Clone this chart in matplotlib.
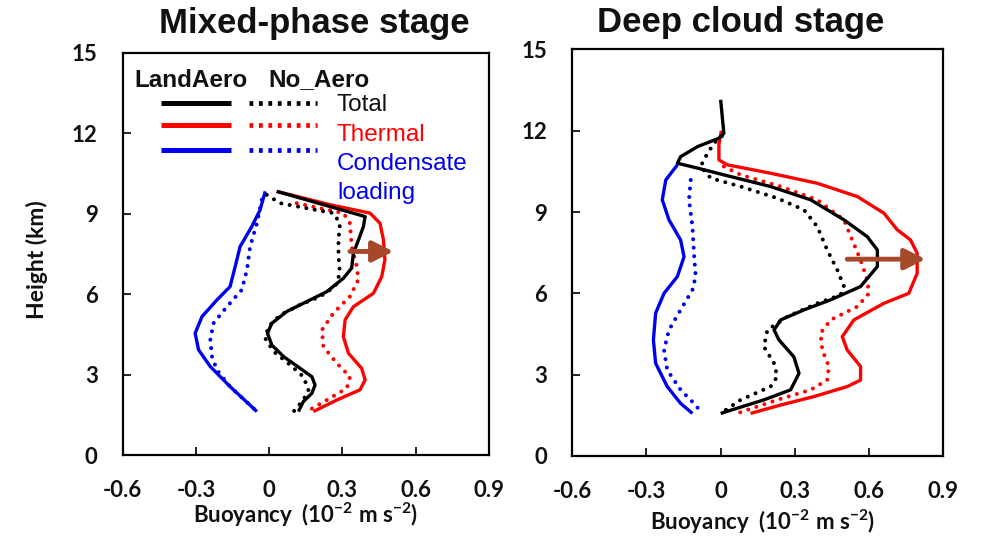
import matplotlib
matplotlib.use("Agg")
import matplotlib.pyplot as plt
from matplotlib.lines import Line2D

# ---------------- data ----------------
# Mixed-phase stage (left panel): height (km) and buoyancy (1e-2 m s-2)
mp_land_total_h = [9.83, 8.89, 8.52, 8.02, 7.53, 6.97, 6.59, 6.09, 5.72, 5.35, 4.91, 4.54, 4.10, 3.67, 3.23, 2.92, 2.61, 2.30, 1.99, 1.62]
mp_land_total_b = [0.031, 0.393, 0.386, 0.366, 0.345, 0.338, 0.304, 0.236, 0.154, 0.072, 0.011, -0.007, 0.011, 0.059, 0.127, 0.175, 0.188, 0.175, 0.140, 0.120]
mp_no_total_h = [9.70, 9.39, 9.20, 9.02, 8.64, 8.02, 7.40, 6.78, 6.28, 5.91, 5.60, 5.22, 4.79, 4.35, 3.86, 3.36, 2.92, 2.43, 2.05, 1.62]
mp_no_total_b = [-0.010, 0.045, 0.154, 0.263, 0.290, 0.284, 0.284, 0.290, 0.270, 0.209, 0.127, 0.045, -0.003, -0.016, 0.018, 0.086, 0.140, 0.161, 0.140, 0.100]
mp_land_therm_h = [9.83, 9.33, 9.02, 8.64, 8.02, 7.28, 6.65, 6.03, 5.53, 5.04, 4.41, 3.79, 3.23, 2.80, 2.43, 2.05, 1.62]
mp_land_therm_b = [0.031, 0.250, 0.413, 0.454, 0.468, 0.474, 0.461, 0.427, 0.345, 0.311, 0.304, 0.325, 0.379, 0.393, 0.372, 0.277, 0.181]
mp_no_therm_h = [9.39, 9.20, 9.02, 8.64, 7.77, 7.03, 6.53, 5.91, 5.29, 4.66, 4.04, 3.42, 2.92, 2.49, 2.05, 1.62]
mp_no_therm_b = [0.113, 0.209, 0.304, 0.331, 0.338, 0.359, 0.365, 0.331, 0.263, 0.216, 0.222, 0.277, 0.331, 0.318, 0.236, 0.154]
mp_land_cond_h = [9.83, 9.14, 8.52, 7.77, 7.03, 6.28, 5.78, 5.16, 4.54, 3.92, 3.30, 2.55, 1.62]
mp_land_cond_b = [-0.016, -0.037, -0.071, -0.119, -0.139, -0.160, -0.214, -0.275, -0.303, -0.289, -0.241, -0.160, -0.050]
mp_no_cond_h = [9.52, 8.64, 7.77, 6.90, 6.16, 5.53, 4.91, 4.29, 3.67, 3.17, 2.55, 1.62]
mp_no_cond_b = [-0.030, -0.050, -0.078, -0.091, -0.112, -0.173, -0.228, -0.241, -0.234, -0.214, -0.160, -0.050]
mp_arrow_b = [0.331, 0.509]
mp_arrow_h = 7.59

# Deep cloud stage (right panel)
dc_land_total_h = [13.14, 11.90, 11.72, 11.41, 11.04, 10.80, 10.62, 10.37, 9.94, 9.45, 8.71, 8.09, 7.60, 6.99, 6.25, 5.76, 5.39, 5.02, 4.65, 4.28, 3.66, 3.05, 2.44, 2.07, 1.57]
dc_land_total_b = [0.000, 0.013, -0.007, -0.094, -0.162, -0.175, -0.094, 0.013, 0.202, 0.364, 0.499, 0.593, 0.634, 0.634, 0.566, 0.445, 0.337, 0.243, 0.216, 0.236, 0.296, 0.317, 0.283, 0.175, 0.000]
dc_no_total_h = [11.80, 11.54, 11.04, 10.68, 10.25, 9.94, 9.51, 9.08, 8.46, 7.60, 6.86, 6.25, 5.94, 5.63, 5.14, 4.65, 4.03, 3.42, 2.93, 2.56, 2.07, 1.57]
dc_no_total_b = [0.005, -0.027, -0.061, -0.081, -0.040, 0.081, 0.229, 0.337, 0.391, 0.431, 0.472, 0.499, 0.485, 0.391, 0.270, 0.189, 0.175, 0.216, 0.229, 0.202, 0.081, 0.000]
dc_land_therm_h = [12.00, 11.50, 10.92, 10.74, 10.43, 10.06, 9.57, 8.96, 8.34, 7.97, 7.48, 6.74, 6.00, 5.63, 5.02, 4.40, 3.91, 3.30, 2.80, 2.56, 2.19, 1.88, 1.57]
dc_land_therm_b = [0.003, -0.007, -0.007, 0.027, 0.202, 0.391, 0.553, 0.660, 0.715, 0.768, 0.795, 0.795, 0.761, 0.660, 0.539, 0.492, 0.512, 0.566, 0.566, 0.512, 0.377, 0.243, 0.121]
dc_no_therm_h = [10.68, 10.37, 9.94, 9.45, 8.71, 7.97, 7.23, 6.49, 6.00, 5.51, 5.02, 4.53, 3.91, 3.30, 2.80, 2.44, 2.07, 1.70, 1.57]
dc_no_therm_b = [0.013, 0.081, 0.243, 0.391, 0.499, 0.532, 0.566, 0.593, 0.600, 0.553, 0.445, 0.404, 0.411, 0.438, 0.431, 0.364, 0.229, 0.108, 0.067]
dc_land_cond_h = [10.74, 10.18, 9.45, 8.71, 7.97, 7.35, 6.62, 6.00, 5.27, 4.28, 3.42, 2.56, 1.94, 1.57]
dc_land_cond_b = [-0.175, -0.222, -0.236, -0.209, -0.162, -0.148, -0.175, -0.229, -0.263, -0.272, -0.263, -0.216, -0.162, -0.114]
dc_no_cond_h = [10.18, 9.45, 8.46, 7.48, 6.62, 6.13, 5.39, 4.65, 3.91, 3.17, 2.44, 1.94, 1.57]
dc_no_cond_b = [-0.121, -0.128, -0.114, -0.108, -0.101, -0.114, -0.162, -0.209, -0.229, -0.216, -0.162, -0.108, -0.074]
dc_arrow_b = [0.512, 0.829]
dc_arrow_h = 7.26

x_ticks = [-0.6, -0.3, 0, 0.3, 0.6, 0.9]
x_ticklabels = ["-0.6", "-0.3", "0", "0.3", "0.6", "0.9"]
y_ticks = [0, 3, 6, 9, 12, 15]
y_ticklabels = ["0", "3", "6", "9", "12", "15"]
legend_headers = ["LandAero", "No_Aero"]
legend_labels = ["Total", "Thermal", "Condensate\nloading"]
titles = ["Mixed-phase stage", "Deep cloud stage"]
x_label = r'Buoyancy  (10$^{-2}$ m s$^{-2}$)'
y_label = 'Height (km)'

# ---------------- style ----------------
plt.rcParams['mathtext.fontset'] = 'custom'
plt.rcParams['mathtext.rm'] = 'Lato:bold'
plt.rcParams['mathtext.it'] = 'Lato:bold'
plt.rcParams['mathtext.bf'] = 'Lato:bold'
plt.rcParams['axes.unicode_minus'] = False

BLACK = '#000000'
RED = '#FF0000'
BLUE = '#0000F0'
BROWN = '#A5492A'
TXT = '#111111'
SOLID_LW = 2.4
DOT_LS = (0, (0.01, 2.1))
DOT_LW = 2.9
TICK_FS = 16

fig = plt.figure(figsize=(9.81, 5.40), dpi=100)
ax1 = fig.add_axes([0.125, 0.1574, 0.3734, 0.745])
ax2 = fig.add_axes([0.5834, 0.1556, 0.378, 0.753])

def style_axes(ax):
    ax.set_xlim(-0.6, 0.9)
    ax.set_ylim(0, 15)
    ax.set_xticks(x_ticks)
    ax.set_xticklabels(x_ticklabels)
    ax.set_yticks(y_ticks)
    ax.set_yticklabels(y_ticklabels)
    for s in ax.spines.values():
        s.set_linewidth(1.6)
        s.set_color('black')
    ax.tick_params(axis='both', direction='in', length=6, width=1.3, top=False, right=False,
                   colors=TXT)
    ax.tick_params(axis='x', pad=18)
    ax.tick_params(axis='y', pad=18)
    for lab in ax.get_xticklabels() + ax.get_yticklabels():
        lab.set_fontfamily('Lato')
        lab.set_fontweight('bold')
        lab.set_fontsize(TICK_FS)

def draw(ax, data, arrow_b, arrow_h):
    for (h, b, color, solid) in data:
        if solid:
            ax.plot(b, h, color=color, lw=SOLID_LW, solid_capstyle='butt', solid_joinstyle='round')
        else:
            ax.plot(b, h, color=color, lw=DOT_LW, linestyle=DOT_LS, dash_capstyle='round')
    ax.annotate('', xy=(arrow_b[1], arrow_h), xytext=(arrow_b[0], arrow_h),
                arrowprops=dict(arrowstyle='-|>,head_length=0.7,head_width=0.35', lw=3.5,
                                color=BROWN, shrinkA=0, shrinkB=0, mutation_scale=18))

draw(ax1, [
    (mp_no_cond_h, mp_no_cond_b, BLUE, False),
    (mp_land_cond_h, mp_land_cond_b, BLUE, True),
    (mp_no_therm_h, mp_no_therm_b, RED, False),
    (mp_land_therm_h, mp_land_therm_b, RED, True),
    (mp_no_total_h, mp_no_total_b, BLACK, False),
    (mp_land_total_h, mp_land_total_b, BLACK, True),
], mp_arrow_b, mp_arrow_h)

draw(ax2, [
    (dc_no_cond_h, dc_no_cond_b, BLUE, False),
    (dc_land_cond_h, dc_land_cond_b, BLUE, True),
    (dc_no_therm_h, dc_no_therm_b, RED, False),
    (dc_land_therm_h, dc_land_therm_b, RED, True),
    (dc_no_total_h, dc_no_total_b, BLACK, False),
    (dc_land_total_h, dc_land_total_b, BLACK, True),
], dc_arrow_b, dc_arrow_h)

style_axes(ax1)
style_axes(ax2)

W, H = 981.0, 540.0
# axis labels
fig.text(36.5 / W, 1 - 260 / H, y_label, rotation=90, ha='center', va='center',
         fontfamily='Lato', fontweight='bold', fontsize=16.5, color=TXT)
fig.text(305 / W, 1 - 523 / H, x_label, ha='center', va='baseline',
         fontfamily='Lato', fontweight='bold', fontsize=16, color=TXT)
fig.text(762.5 / W, 1 - 530 / H, x_label, ha='center', va='baseline',
         fontfamily='Lato', fontweight='bold', fontsize=16, color=TXT)

# titles
fig.text(314.5 / W, 1 - 33 / H, titles[0], ha='center', va='baseline',
         fontfamily='Liberation Sans', fontweight='bold', fontsize=25, color=TXT)
fig.text(741 / W, 1 - 32 / H, titles[1], ha='center', va='baseline',
         fontfamily='Liberation Sans', fontweight='bold', fontsize=25, color=TXT)

# legend (left panel, axes fraction coordinates)
def afx(px):
    return (px - 122.7) / 366.3
def afy(py):
    return (455 - py) / 402.3

ax1.text(afx(134), afy(80), legend_headers[0], transform=ax1.transAxes, ha='left', va='center',
         fontfamily='Liberation Sans', fontweight='bold', fontsize=17.5, color=TXT)
ax1.text(afx(268), afy(80), legend_headers[1], transform=ax1.transAxes, ha='left', va='center',
         fontfamily='Liberation Sans', fontweight='bold', fontsize=17.5, color=TXT)
leg_colors = [BLACK, RED, BLUE]
leg_y = [103, 125, 150]
for c, yy in zip(leg_colors, leg_y):
    ax1.add_line(Line2D([afx(161), afx(231)], [afy(yy), afy(yy)], transform=ax1.transAxes,
                        color=c, lw=3.6, solid_capstyle='butt'))
    ax1.add_line(Line2D([afx(249), afx(317)], [afy(yy), afy(yy)], transform=ax1.transAxes,
                        color=c, lw=3.4, linestyle=(0, (0.8, 1.2)), dash_capstyle='butt'))
label_lines = [(legend_labels[0], TXT, 105), (legend_labels[1], RED, 135)]
cond_lines = legend_labels[2].split("\n")
label_lines += [(cond_lines[0], BLUE, 164), (cond_lines[1], BLUE, 193)]
for txt, col, yy in label_lines:
    ax1.text(afx(337), afy(yy), txt, transform=ax1.transAxes, ha='left', va='center',
             fontfamily='Liberation Sans', fontsize=17.5, color=col)

fig.savefig('out.png', dpi=100)
